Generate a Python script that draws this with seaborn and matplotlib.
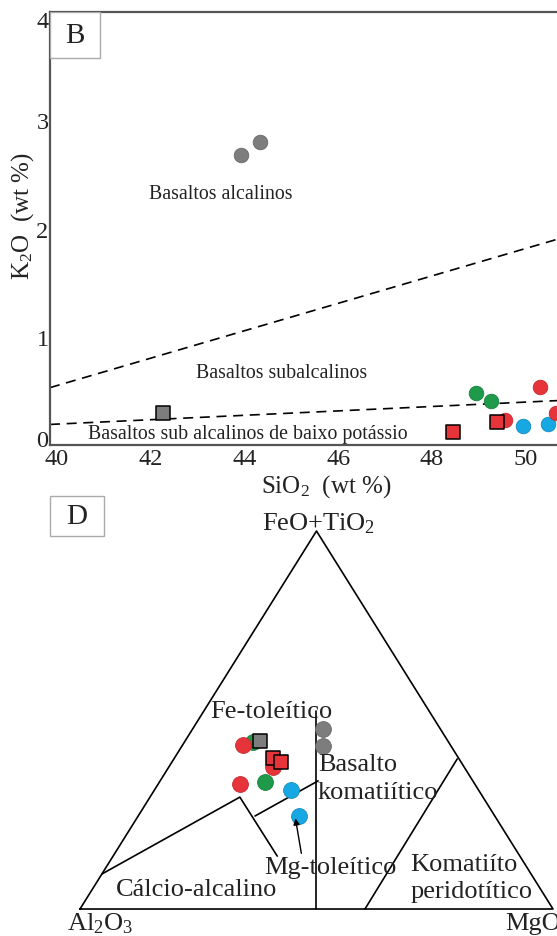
import numpy as np
import pandas as pd
import matplotlib
matplotlib.use("Agg")
import matplotlib.pyplot as plt
import matplotlib.transforms as mtransforms
from matplotlib.patches import Rectangle
from matplotlib.ticker import MultipleLocator
import seaborn as sns

# ---------------- data ----------------
# Panel B: SiO2 vs K2O
sio2_circ = [43.93, 44.33, 48.94, 49.26, 50.30, 49.56, 50.65, 49.95, 50.48]
k2o_circ = [2.68, 2.80, 0.48, 0.41, 0.54, 0.23, 0.30, 0.18, 0.195]
grp_circ = ["gray", "gray", "green", "green", "red", "red", "red", "blue", "blue"]
sio2_sq = [42.26, 48.45, 49.39]
k2o_sq = [0.30, 0.12, 0.21]
grp_sq = ["gray", "red", "red"]

# boundary lines (SiO2, K2O)
alk_line_x = [39.85, 50.67]
alk_line_y = [0.53, 1.90]
lowk_line_x = [39.85, 50.67]
lowk_line_y = [0.19, 0.41]

# Panel D: Jensen cation plot (Al2O3, FeO+TiO2, MgO in %)
t_al_circ = [24.8, 27.0, 41.3, 43.8, 40.5, 49.6, 44.0, 39.6, 41.3]
t_fe_circ = [47.6, 43.2, 44.1, 43.4, 37.5, 33.1, 33.7, 31.6, 24.7]
t_mg_circ = [27.6, 29.8, 14.6, 12.8, 22.0, 17.3, 22.3, 28.8, 34.0]
t_grp_circ = ["gray", "gray", "green", "red", "red", "red", "green", "blue", "blue"]
t_al_sq = [39.7, 39.2, 38.0]
t_fe_sq = [44.5, 39.9, 39.0]
t_mg_sq = [15.8, 20.9, 23.0]
t_grp_sq = ["gray", "red", "red"]

palette = {"gray": "#7d7d7d", "green": "#1f9a4b", "blue": "#17a8e3", "red": "#e7343a"}
edge_pal = {"gray": "#6a6a6a", "green": "#17803c", "blue": "#128cc0", "red": "#c42a2f"}

# ---------------- style ----------------
sns.set_theme(style="white")
plt.rcParams["font.family"] = ["Liberation Serif", "DejaVu Serif"]
plt.rcParams["mathtext.fontset"] = "custom"
plt.rcParams["mathtext.rm"] = "Liberation Serif"
plt.rcParams["mathtext.it"] = "Liberation Serif:italic"
plt.rcParams["mathtext.default"] = "rm"

fig = plt.figure(figsize=(5.57, 9.37), dpi=100)
fig.patch.set_facecolor("white")

# ======== Panel B ========
ax = fig.add_axes([50 / 557, 1 - 446 / 937, 507 / 557, 433 / 937])
ax.set_facecolor("white")
ax.plot(alk_line_x, alk_line_y, ls=(0, (6, 4)), color="black", lw=1.2, zorder=2)
ax.plot(lowk_line_x, lowk_line_y, ls=(0, (6, 4)), color="black", lw=1.2, zorder=2)

df_c = pd.DataFrame({"SiO2": sio2_circ, "K2O": k2o_circ, "grp": grp_circ})
df_s = pd.DataFrame({"SiO2": sio2_sq, "K2O": k2o_sq, "grp": grp_sq})
for g, sub in df_c.groupby("grp"):
    sns.scatterplot(data=sub, x="SiO2", y="K2O", color=palette[g], marker="o", s=110,
                    edgecolor=edge_pal[g], linewidth=0.6, ax=ax, zorder=3, clip_on=False)
for g, sub in df_s.groupby("grp"):
    sns.scatterplot(data=sub, x="SiO2", y="K2O", color=palette[g], marker="s", s=95,
                    edgecolor="black", linewidth=1.1, ax=ax, zorder=4, clip_on=False)

ax.set_xlim(39.85, 50.67)
ax.set_ylim(0, 4)
ax.xaxis.set_major_locator(MultipleLocator(2))
ax.xaxis.set_minor_locator(MultipleLocator(0.5))
ax.yaxis.set_major_locator(MultipleLocator(1))
ax.yaxis.set_minor_locator(MultipleLocator(0.25))
ax.tick_params(which="both", direction="in", color="#555555", width=1.0,
               labelsize=17.5, labelcolor="#222222")
ax.tick_params(which="major", length=6)
ax.tick_params(which="minor", length=5)
ax.tick_params(axis="x", pad=2)
ax.tick_params(axis="y", pad=1)
for side in ["left", "top", "bottom"]:
    ax.spines[side].set_color("#555555")
    ax.spines[side].set_linewidth(1.6)
ax.spines["right"].set_visible(False)
ax.set_xlabel("SiO$_2$  (wt %)", fontsize=18, color="#222222")
ax.set_ylabel("K$_2$O  (wt %)", fontsize=18, color="#222222")
ax.xaxis.set_label_coords(0.544, -0.062)
ax.yaxis.set_label_coords(-0.028, 0.53)

# nudge the end y tick labels as in the original
fig.canvas.draw()
yticks = ax.yaxis.get_major_ticks()
for tk in yticks:
    val = tk.get_loc()
    if abs(val) < 1e-9:
        off = mtransforms.ScaledTranslation(0, 7 / 100, fig.dpi_scale_trans)
        tk.label1.set_transform(tk.label1.get_transform() + off)
    elif abs(val - 4) < 1e-9:
        off = mtransforms.ScaledTranslation(0, -7 / 100, fig.dpi_scale_trans)
        tk.label1.set_transform(tk.label1.get_transform() + off)

ax.text(43.50, 2.32, "Basaltos alcalinos", fontsize=14.3, ha="center", va="center", color="#222222")
ax.text(44.80, 0.67, "Basaltos subalcalinos", fontsize=14.3, ha="center", va="center", color="#222222")
ax.text(44.08, 0.105, "Basaltos sub alcalinos de baixo potássio", fontsize=14.3,
        ha="center", va="center", color="#222222", zorder=1)

ax.add_patch(Rectangle((0, 0.894), 0.0986, 0.106, transform=ax.transAxes,
                       facecolor="white", edgecolor="#aaaaaa", lw=1.0, zorder=5))
ax.text(0.049, 0.947, "B", transform=ax.transAxes, fontsize=21, ha="center",
        va="center", color="#222222", zorder=6)

# ======== Panel D ========
tx = fig.add_axes([0, 0, 1, 0.5])
tx.set_axis_off()
tx.set_xlim(-0.1691, 1.0085)
tx.set_ylim(-0.0714, 1.168)


def tern(al, fe, mg):
    al = np.asarray(al, float); fe = np.asarray(fe, float); mg = np.asarray(mg, float)
    tot = al + fe + mg
    f = fe / tot
    m = mg / tot
    return m + f / 2, f


lw = 1.2
# outer triangle
ox, oy = tern([100, 0, 0, 100], [0, 100, 0, 0], [0, 0, 100, 0])
tx.plot(ox, oy, color="black", lw=lw)
# internal boundaries (Al, Fe, Mg)
bounds = [
    ([50, 23.8], [0, 52.4], [50, 23.8]),                        # vertical
    ([90.74, 51.4, 51.3], [9.26, 29.6, 14.0], [0, 19.0, 34.7]),  # calc-alkaline
    ([50.7, 32.7], [24.6, 33.9], [24.7, 33.4]),                  # Mg-tholeiite
    ([39.75, 0.4], [0, 39.7], [60.25, 59.9]),                    # komatiite
]
for a, f, m in bounds:
    bx, by = tern(a, f, m)
    tx.plot(bx, by, color="black", lw=lw)

tdf_c = pd.DataFrame({"grp": t_grp_circ})
tdf_c["X"], tdf_c["Y"] = tern(t_al_circ, t_fe_circ, t_mg_circ)
tdf_s = pd.DataFrame({"grp": t_grp_sq})
tdf_s["X"], tdf_s["Y"] = tern(t_al_sq, t_fe_sq, t_mg_sq)
for g, sub in tdf_c.groupby("grp"):
    sns.scatterplot(data=sub, x="X", y="Y", color=palette[g], marker="o", s=130,
                    edgecolor=edge_pal[g], linewidth=0.6, ax=tx, zorder=3)
for g, sub in tdf_s.groupby("grp"):
    sns.scatterplot(data=sub, x="X", y="Y", color=palette[g], marker="s", s=105,
                    edgecolor="black", linewidth=1.1, ax=tx, zorder=4)
tx.set_axis_off()

tfs = 19
tc = "#222222"
tx.text(0.505, 1.021, "FeO+TiO$_2$", fontsize=tfs, ha="center", va="center", color=tc)
tx.text(0.404, 0.524, "Fe-toleítico", fontsize=tfs, ha="center", va="center", color=tc)
tx.text(0.503, 0.384, "Basalto", fontsize=tfs, ha="left", va="center", color=tc)
tx.text(0.503, 0.310, "komatiítico", fontsize=tfs, ha="left", va="center", color=tc)
tx.text(0.529, 0.111, "Mg-toleítico", fontsize=tfs, ha="center", va="center", color=tc)
tx.text(0.698, 0.119, "Komatiíto", fontsize=tfs, ha="left", va="center", color=tc)
tx.text(0.698, 0.048, "peridotítico", fontsize=tfs, ha="left", va="center", color=tc)
tx.text(0.247, 0.053, "Cálcio-alcalino", fontsize=tfs, ha="center", va="center", color=tc)
tx.text(0.042, -0.036, "Al$_2$O$_3$", fontsize=tfs, ha="center", va="center", color=tc)
tx.text(0.8985, -0.036, "MgO", fontsize=tfs, ha="left", va="center", color=tc)

tx.annotate("", xy=(0.4545, 0.2469), xytext=(0.469, 0.140),
            arrowprops=dict(arrowstyle="-|>", color="black", lw=1.0, mutation_scale=9))

tx.add_patch(Rectangle((-0.0634, 0.987), 0.1141, 0.1056, facecolor="white",
                       edgecolor="#aaaaaa", lw=1.0, zorder=5))
tx.text(-0.0063, 1.04, "D", fontsize=21, ha="center", va="center", color=tc, zorder=6)

fig.savefig("out.png", dpi=100, facecolor="white")
